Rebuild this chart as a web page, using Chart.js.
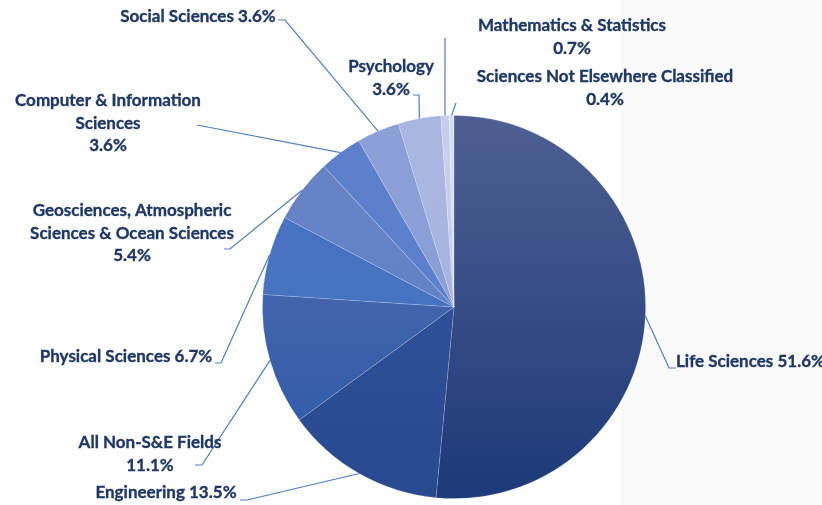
<!DOCTYPE html>
<html>
<head>
<meta charset="utf-8">
<script src="https://cdn.jsdelivr.net/npm/chart.js@4.4.1/dist/chart.umd.min.js"></script>
<style>
  html, body { margin: 0; padding: 0; background: #ffffff; }
  #wrap { width: 822px; height: 505px; position: relative; }
</style>
</head>
<body>
<div id="wrap"><canvas id="c" width="822" height="505"></canvas></div>
<script>
// ---- data ----
const categories = [
  "Life Sciences",
  "Engineering",
  "All Non-S&E Fields",
  "Physical Sciences",
  "Geosciences, Atmospheric Sciences & Ocean Sciences",
  "Computer & Information Sciences",
  "Social Sciences",
  "Psychology",
  "Mathematics & Statistics",
  "Sciences Not Elsewhere Classified"
];
const shares = [51.6, 13.5, 11.1, 6.7, 5.4, 3.6, 3.6, 3.6, 0.7, 0.4];

// ---- styling (colors: top / bottom of vertical gradient) ----
const sliceColors = [
  ["#4e5f91", "#1d3979"],
  ["#3657a2", "#28498f"],
  ["#5571b4", "#2c57a6"],
  ["#4a74c2", "#4270c2"],
  ["#6683c5", "#6080c3"],
  ["#5d80cd", "#5a7ecc"],
  ["#8ca0d7", "#889dd5"],
  ["#a9b6e1", "#a5b3df"],
  ["#c6cfec", "#c3cdea"],
  ["#d8def2", "#d4dbf0"]
];

// label layout: lines (word-wrapping of name + percent), anchor, leader path
const labelLayout = [
  { lines: [[0, 2, true]], align: "left", x: 676, y: 362, path: [[676, 368], [669, 368]] },
  { lines: [[0, 1, true]], align: "center", x: 166, y: 493, path: [[240, 500], [247, 500]] },
  { lines: [[0, 3, false], "pct"], align: "center", x: 150, y: 443, path: [[195, 465], [202, 465]] },
  { lines: [[0, 2, true]], align: "center", x: 126, y: 357, path: [[215, 363], [221, 363]] },
  { lines: [[0, 2, false], [2, 6, false], "pct"], align: "center", x: 132, y: 211, path: [[224, 249], [230, 249]] },
  { lines: [[0, 3, false], [3, 4, false], "pct"], align: "center", x: 108, y: 101, path: [[197, 125]] },
  { lines: [[0, 2, true]], align: "center", x: 198, y: 17, path: [[278, 20], [285, 20]] },
  { lines: [[0, 1, false], "pct"], align: "center", x: 391, y: 67, path: [[413, 95], [419, 95]] },
  { lines: [[0, 3, false], "pct"], align: "center", x: 572, y: 26, path: [[445, 38]] },
  { lines: [[0, 4, false], "pct"], align: "center", x: 605, y: 77, path: [[456, 103]] }
];

const TEXT_COLOR = "#1f3866";
const LINE_COLOR = "#4f7fc0";
const FONT = "bold 17px Lato, 'Open Sans', sans-serif";
const LINE_H = 22.5;

function pctText(v) { return v.toFixed(1) + "%"; }

function buildLines(i) {
  const words = categories[i].split(" ");
  return labelLayout[i].lines.map(spec => {
    if (spec === "pct") return pctText(shares[i]);
    const [a, b, withPct] = spec;
    let s = words.slice(a, b).join(" ");
    if (withPct) s += " " + pctText(shares[i]);
    return s;
  });
}

const panelPlugin = {
  id: "panel",
  beforeDraw(chart) {
    const ctx = chart.ctx;
    ctx.save();
    ctx.fillStyle = "#f9f9f9";
    ctx.fillRect(621, 0, chart.width - 621, chart.height);
    ctx.restore();
  }
};

const labelPlugin = {
  id: "pieLabels",
  afterDatasetsDraw(chart) {
    const ctx = chart.ctx;
    const meta = chart.getDatasetMeta(0);
    ctx.save();
    meta.data.forEach((arc, i) => {
      const lay = labelLayout[i];
      const p = arc.getProps(["x", "y", "startAngle", "endAngle", "outerRadius"], true);
      const mid = (p.startAngle + p.endAngle) / 2;
      const ex = p.x + Math.cos(mid) * p.outerRadius;
      const ey = p.y + Math.sin(mid) * p.outerRadius;
      ctx.strokeStyle = LINE_COLOR;
      ctx.lineWidth = 1.2;
      ctx.beginPath();
      lay.path.forEach((pt, k) => k === 0 ? ctx.moveTo(pt[0], pt[1]) : ctx.lineTo(pt[0], pt[1]));
      ctx.lineTo(ex, ey);
      ctx.stroke();

      ctx.fillStyle = TEXT_COLOR;
      ctx.strokeStyle = TEXT_COLOR;
      ctx.lineWidth = 0.35;
      ctx.font = FONT;
      ctx.textAlign = lay.align;
      ctx.textBaseline = "middle";
      buildLines(i).forEach((t, k) => {
        ctx.fillText(t, lay.x, lay.y + k * LINE_H);
        ctx.strokeText(t, lay.x, lay.y + k * LINE_H);
      });
    });
    ctx.restore();
  }
};

function sliceBg(context) {
  const chart = context.chart;
  const area = chart.chartArea;
  const i = context.dataIndex;
  if (!area) return sliceColors[i][0];
  const g = chart.ctx.createLinearGradient(0, area.top, 0, area.bottom);
  g.addColorStop(0, sliceColors[i][0]);
  g.addColorStop(1, sliceColors[i][1]);
  return g;
}

new Chart(document.getElementById("c"), {
  type: "pie",
  data: {
    labels: categories,
    datasets: [{
      data: shares,
      backgroundColor: sliceBg,
      borderColor: "rgba(255,255,255,0.22)",
      borderWidth: 0.8
    }]
  },
  options: {
    responsive: false,
    animation: false,
    layout: { padding: { left: 262, right: 176, top: 115, bottom: 6 } },
    plugins: { legend: { display: false }, tooltip: { enabled: false } }
  },
  plugins: [panelPlugin, labelPlugin]
});
</script>
</body>
</html>
